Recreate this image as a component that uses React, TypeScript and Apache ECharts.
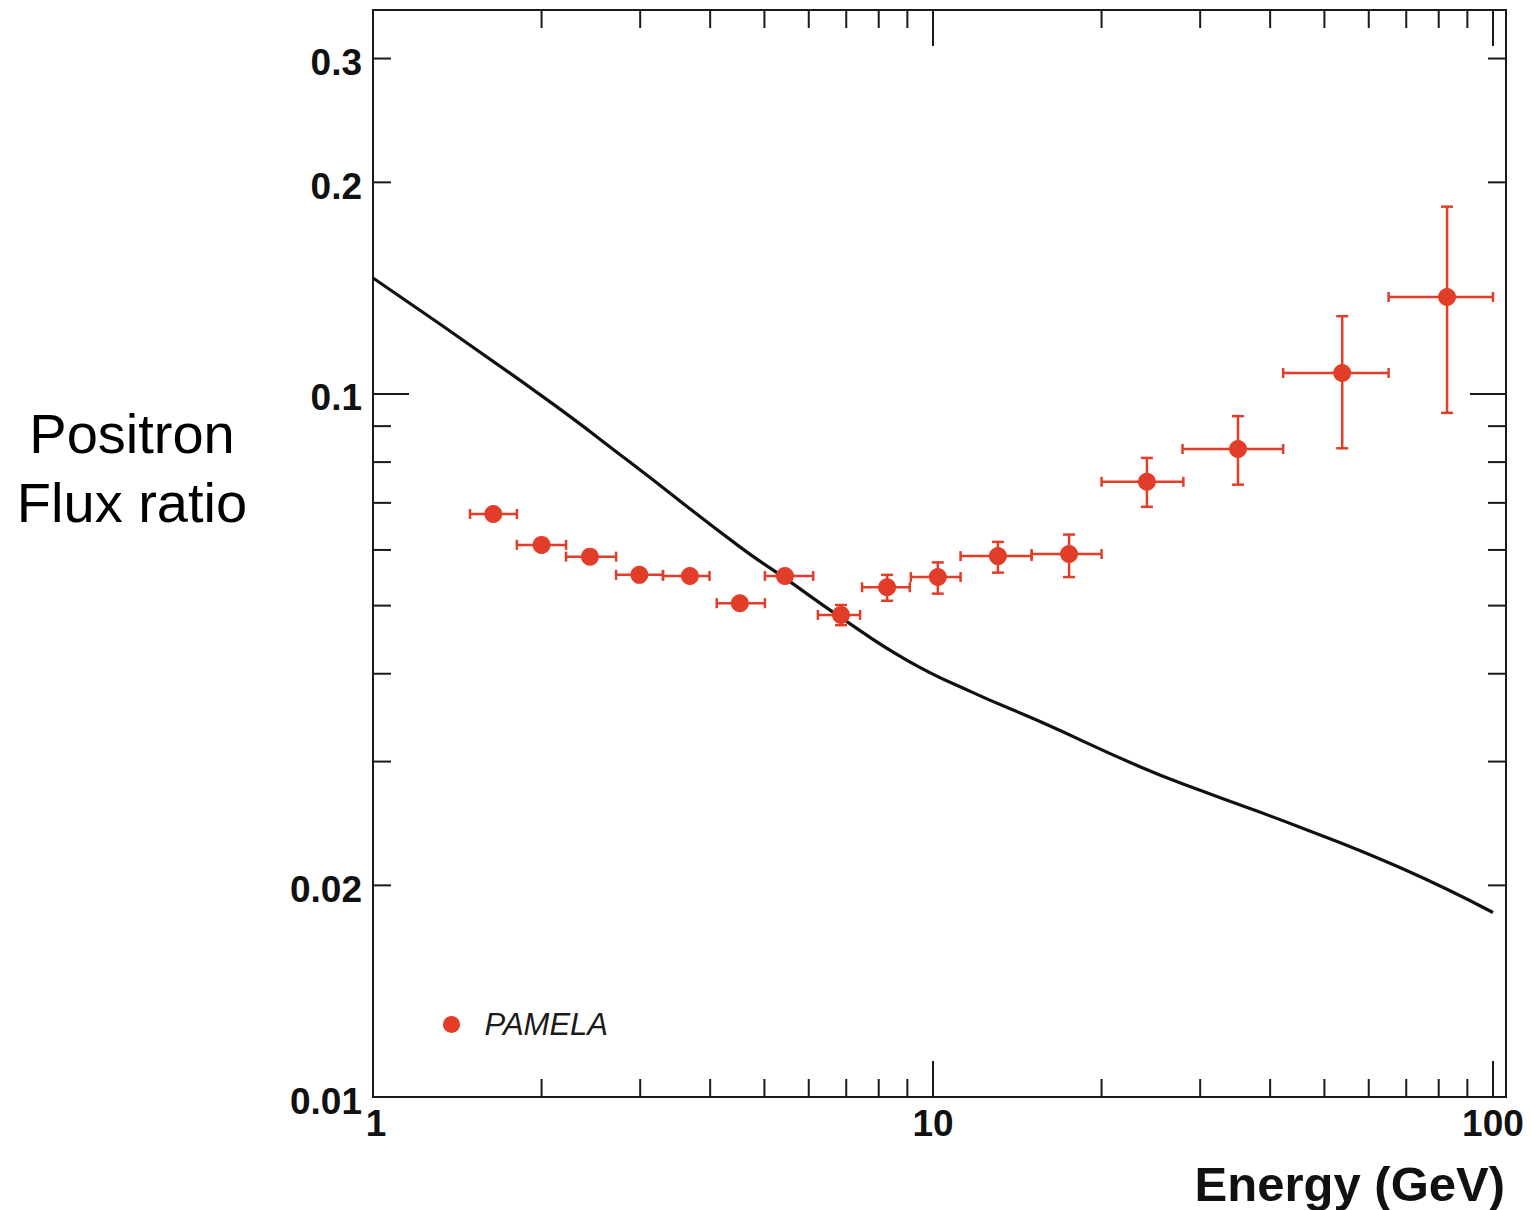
import React, { useEffect, useRef } from "react";
import * as echarts from "echarts";

// PAMELA positron fraction data points
const energy = [1.64, 2.0, 2.44, 2.99, 3.68, 4.52, 5.44, 6.85, 8.28, 10.2, 13.06, 17.5, 24.1, 35.05, 53.8, 82.8];
const ratio = [0.0675, 0.061, 0.0587, 0.0553, 0.0551, 0.0504, 0.0551, 0.0485, 0.0531, 0.0549, 0.0588, 0.0592, 0.075, 0.0835, 0.1071, 0.1374];
const energyLow = [1.49, 1.807, 2.212, 2.717, 3.295, 4.11, 5.01, 6.23, 7.47, 9.13, 11.2, 15.0, 20.0, 27.9, 42.2, 65.1];
const energyHigh = [1.807, 2.212, 2.717, 3.295, 3.99, 5.01, 6.11, 7.41, 9.09, 11.2, 15.0, 20.0, 28.0, 42.2, 65.1, 100];
const ratioLow = [0.067, 0.0605, 0.0582, 0.0548, 0.0546, 0.0499, 0.0546, 0.0469, 0.0508, 0.052, 0.0557, 0.0549, 0.0691, 0.0743, 0.0837, 0.094];
const ratioHigh = [0.068, 0.0615, 0.0592, 0.0558, 0.0556, 0.0509, 0.0556, 0.0501, 0.0553, 0.0576, 0.0616, 0.0631, 0.0811, 0.093, 0.129, 0.1847];

// Model curve (secondary production)
const modelEnergy = [1, 1.99, 2.84, 4.52, 5.44, 6.82, 8.99, 11.79, 15.53, 23.42, 29.99, 45.22, 68.2, 100];
const modelRatio = [0.1462, 0.0997, 0.0806, 0.0606, 0.0547, 0.0482, 0.0418, 0.0376, 0.0342, 0.0295, 0.0273, 0.0242, 0.0212, 0.0183];

// Axis ranges and ticks
const xMin = 1;
const xMax = 105.5;
const yMin = 0.01;
const yMax = 0.3517;
const xTicks = [2, 3, 4, 5, 6, 7, 8, 9, 10, 20, 30, 40, 50, 60, 70, 80, 90, 100];
const xMajor = [10, 100];
const yTicks = [0.02, 0.03, 0.04, 0.05, 0.06, 0.07, 0.08, 0.09, 0.1, 0.2, 0.3];
const yMajor = [0.1];
const xLabelValues = [1, 10, 100];
const xLabelTexts = ["1", "10", "100"];
const yLabelValues = [0.01, 0.02, 0.1, 0.2, 0.3];
const yLabelTexts = ["0.01", "0.02", "0.1", "0.2", "0.3"];

const RED = "#e23d28";
const FONT = "'Liberation Sans', Arial, Helvetica, sans-serif";

export default function App() {
  const ref = useRef<HTMLDivElement>(null);

  useEffect(() => {
    if (!ref.current) return;
    const chart = echarts.init(ref.current, undefined, { renderer: "svg" });

    const option: any = {
      animation: false,
      backgroundColor: "#ffffff",
      grid: {
        left: 373,
        top: 10,
        right: 25,
        bottom: 113,
        show: true,
        borderColor: "#1a1a1a",
        borderWidth: 2,
        backgroundColor: "transparent",
      },
      xAxis: {
        type: "log",
        logBase: 10,
        min: xMin,
        max: xMax,
        axisLine: { show: false },
        axisTick: { show: false },
        axisLabel: { show: false },
        splitLine: { show: false },
        minorTick: { show: false },
      },
      yAxis: {
        type: "log",
        logBase: 10,
        min: yMin,
        max: yMax,
        axisLine: { show: false },
        axisTick: { show: false },
        axisLabel: { show: false },
        splitLine: { show: false },
        minorTick: { show: false },
      },
      legend: {
        data: ["PAMELA"],
        left: 438,
        top: 1004,
        icon: "circle",
        itemWidth: 56,
        itemHeight: 17,
        textStyle: {
          fontFamily: FONT,
          fontStyle: "italic",
          fontSize: 31,
          color: "#1a1a1a",
        },
      },
      graphic: [
        {
          type: "text",
          right: 26,
          top: 1159,
          style: {
            text: "Energy (GeV)",
            font: `bold 49px ${FONT}`,
            fill: "#111",
          },
        },
        {
          type: "text",
          x: 132,
          y: 468,
          style: {
            text: "Positron\nFlux ratio",
            font: `56px ${FONT}`,
            fill: "#000",
            align: "center",
            verticalAlign: "middle",
            lineHeight: 69,
          },
        },
      ],
      series: [
        {
          name: "Model",
          type: "line",
          data: modelEnergy.map((e, i) => [e, modelRatio[i]]),
          showSymbol: false,
          smooth: 0.5,
          lineStyle: { color: "#111", width: 3.2 },
          z: 3,
          silent: true,
        },
        {
          name: "PAMELA errors",
          type: "custom",
          silent: true,
          z: 4,
          data: energy.map((e, i) => [e, ratio[i], energyLow[i], energyHigh[i], ratioLow[i], ratioHigh[i]]),
          encode: { x: 0, y: 1 },
          renderItem: (params: any, api: any) => {
            const c = api.coord([api.value(0), api.value(1)]);
            const xl = api.coord([api.value(2), api.value(1)])[0];
            const xh = api.coord([api.value(3), api.value(1)])[0];
            const yl = api.coord([api.value(0), api.value(4)])[1];
            const yh = api.coord([api.value(0), api.value(5)])[1];
            const st = { stroke: RED, lineWidth: 2.5 };
            const cap = 5;
            const vcap = 6;
            const children: any[] = [
              { type: "line", shape: { x1: xl, y1: c[1], x2: xh, y2: c[1] }, style: st },
              { type: "line", shape: { x1: xl, y1: c[1] - cap, x2: xl, y2: c[1] + cap }, style: st },
              { type: "line", shape: { x1: xh, y1: c[1] - cap, x2: xh, y2: c[1] + cap }, style: st },
            ];
            if (yl - c[1] > 8.5) {
              children.push({ type: "line", shape: { x1: c[0], y1: c[1], x2: c[0], y2: yl }, style: st });
              children.push({ type: "line", shape: { x1: c[0] - vcap, y1: yl, x2: c[0] + vcap, y2: yl }, style: st });
            }
            if (c[1] - yh > 8.5) {
              children.push({ type: "line", shape: { x1: c[0], y1: c[1], x2: c[0], y2: yh }, style: st });
              children.push({ type: "line", shape: { x1: c[0] - vcap, y1: yh, x2: c[0] + vcap, y2: yh }, style: st });
            }
            return { type: "group", children };
          },
        },
        {
          name: "PAMELA",
          type: "scatter",
          data: energy.map((e, i) => [e, ratio[i]]),
          symbol: "circle",
          symbolSize: 18,
          itemStyle: { color: RED, opacity: 1 },
          z: 5,
          silent: true,
        },
        {
          name: "xTicks",
          type: "custom",
          silent: true,
          z: 6,
          data: xTicks.map((v) => [v, yMin, xMajor.includes(v) ? 1 : 0]),
          encode: { x: 0, y: 1 },
          renderItem: (params: any, api: any) => {
            const p = api.coord([api.value(0), api.value(1)]);
            const cs = params.coordSys;
            const len = api.value(2) ? 36 : 18;
            const st = { stroke: "#1a1a1a", lineWidth: 2 };
            const b = cs.y + cs.height;
            return {
              type: "group",
              children: [
                { type: "line", shape: { x1: p[0], y1: b, x2: p[0], y2: b - len }, style: st },
                { type: "line", shape: { x1: p[0], y1: cs.y, x2: p[0], y2: cs.y + len }, style: st },
              ],
            };
          },
        },
        {
          name: "yTicks",
          type: "custom",
          silent: true,
          z: 6,
          data: yTicks.map((v) => [xMin, v, yMajor.includes(v) ? 1 : 0]),
          encode: { x: 0, y: 1 },
          renderItem: (params: any, api: any) => {
            const p = api.coord([api.value(0), api.value(1)]);
            const cs = params.coordSys;
            const len = api.value(2) ? 36 : 18;
            const st = { stroke: "#1a1a1a", lineWidth: 2 };
            const r = cs.x + cs.width;
            return {
              type: "group",
              children: [
                { type: "line", shape: { x1: cs.x, y1: p[1], x2: cs.x + len, y2: p[1] }, style: st },
                { type: "line", shape: { x1: r, y1: p[1], x2: r - len, y2: p[1] }, style: st },
              ],
            };
          },
        },
        {
          name: "xLabels",
          type: "custom",
          silent: true,
          z: 6,
          data: xLabelValues.map((v) => [v, yMin]),
          encode: { x: 0, y: 1 },
          renderItem: (params: any, api: any) => {
            const p = api.coord([api.value(0), api.value(1)]);
            return {
              type: "text",
              x: p[0] + (params.dataIndex === 0 ? 3 : 0),
              y: p[1] + 26,
              style: {
                text: xLabelTexts[params.dataIndex],
                font: `bold 37px ${FONT}`,
                fill: "#111",
                align: "center",
                verticalAlign: "middle",
              },
            };
          },
        },
        {
          name: "yLabels",
          type: "custom",
          silent: true,
          z: 6,
          data: yLabelValues.map((v) => [xMin, v]),
          encode: { x: 0, y: 1 },
          renderItem: (params: any, api: any) => {
            const p = api.coord([api.value(0), api.value(1)]);
            return {
              type: "text",
              x: p[0] - 11,
              y: p[1] + 4,
              style: {
                text: yLabelTexts[params.dataIndex],
                font: `bold 37px ${FONT}`,
                fill: "#111",
                align: "right",
                verticalAlign: "middle",
              },
            };
          },
        },
      ],
    };

    chart.setOption(option);
    return () => {
      chart.dispose();
    };
  }, []);

  return (
    <div
      ref={ref}
      style={{ position: "fixed", left: 0, top: 0, width: 1531, height: 1210, background: "#fff" }}
    />
  );
}
